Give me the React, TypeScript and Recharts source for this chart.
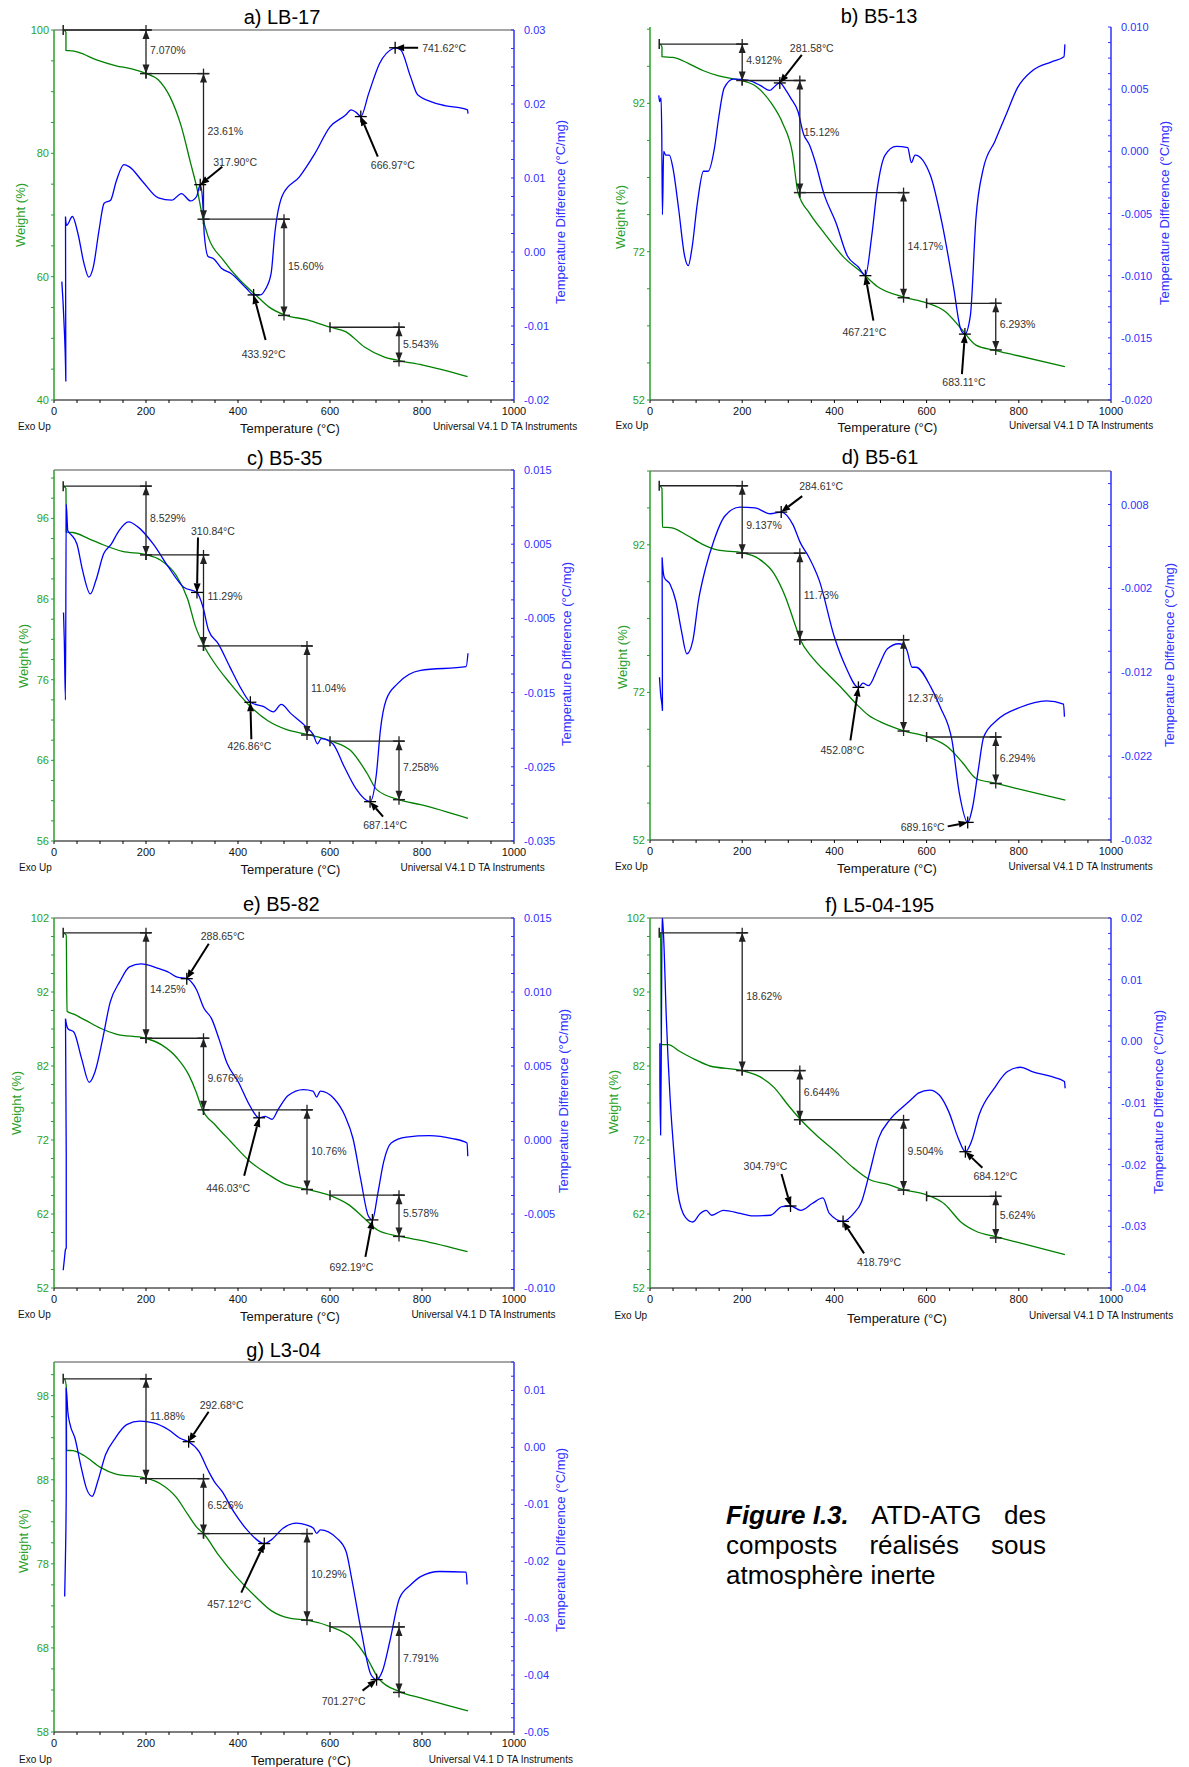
import React from "react";
import { ComposedChart, Line, XAxis, YAxis, ReferenceLine, ReferenceDot } from "recharts";

const FONT = '"Liberation Sans", Arial, Helvetica, sans-serif';
const TGA = "#008000";
const AXIS_GREEN = "#2a9f2a";
const DTA = "#0000ff";
const AXIS_BLUE = "#3030ff";
const INK = "#222";

type Pair = [number, number];
// [from °C, to °C, start weight (null = continue from previous step), loss %]
type Step = [number, number, number | null, number];
// [peak °C, DTA value]
type Peak = [number, number];
// [arrow tail dx, dy, label dx, dy, anchor] in px from the peak
type PeakLayout = [number, number, number, number, "start" | "middle" | "end"];

const xMajor = [0, 200, 400, 600, 800, 1000];

// ---------- a) LB-17 ----------
const lb17Weight: Pair[] = [
  [22, 100], [26, 99.6], [26, 96.7], [40, 96.6], [52, 96.4], [94, 95.1], [135, 94.2], [169, 93.7],
  [199, 92.97], [227, 91.9], [252, 89.2], [277, 84.3], [297, 78.4], [310, 74.6], [324, 69.35],
  [335, 66.5], [368, 62.7], [401, 59.7], [439, 57.0], [467, 55.1], [501, 53.8], [551, 53.0],
  [600, 51.8], [634, 51.1], [675, 48.6], [717, 47.0], [750, 46.4], [800, 45.7], [899, 43.8],
];
const lb17Dta: Pair[] = [
  [17, -0.004], [21.5, -0.0092], [25.7, -0.0175], [25, 0.0048], [27.4, 0.0036], [40, 0.0048],
  [52, 0.0025], [65, -0.0015], [75.6, -0.0034], [85.5, -0.002], [98, 0.003], [109, 0.0066],
  [123, 0.007], [135, 0.0095], [152, 0.0118], [164, 0.0115], [193, 0.0095], [227, 0.0073],
  [256, 0.007], [277, 0.0079], [297, 0.0069], [310, 0.0075], [317.9, 0.0091], [324, 0.0061],
  [326.5, 0.0025], [335, -0.0006], [347, -0.0009], [364, -0.0022], [385, -0.0029], [418, -0.0049],
  [434, -0.0058], [448, -0.0058], [459, -0.0051], [472, -0.0029], [480, 0.0025], [497, 0.0077],
  [534, 0.0102], [567, 0.0133], [600, 0.0169], [634, 0.0185], [646, 0.0192], [658, 0.0188],
  [667, 0.0183], [684, 0.0214], [708, 0.0255], [737, 0.0275], [742, 0.0276], [754, 0.0273],
  [775, 0.0237], [791, 0.0212], [841, 0.0199], [899, 0.0192], [900, 0.0187],
];
const lb17Steps: Step[] = [[20, 200, 100, 7.07], [200, 325, null, 23.61], [325, 500, null, 15.6], [600, 750, 51.8, 5.543]];
const lb17Peaks: Peak[] = [[317.9, 0.0091], [433.92, -0.0058], [666.97, 0.0183], [741.62, 0.0276]];
const lb17WeightTicks = [40, 60, 80, 100];
const lb17DtaTicks = [-0.02, -0.01, 0, 0.01, 0.02, 0.03];

// ---------- b) B5-13 ----------
const b513Weight: Pair[] = [
  [22, 100], [26, 99.6], [26, 98.3], [50, 98.2], [83, 97.4], [116, 96.4], [149, 95.7], [200, 95.06],
  [231, 94.25], [263.5, 92], [288, 89.3], [309, 85.3], [321, 80.0], [346, 77.2], [378, 74.5],
  [419.5, 71.3], [461, 69.1], [493, 67.3], [549, 65.9], [600, 65.1], [641, 63.9], [674, 61.7],
  [707, 59.4], [748, 58.7], [789, 58.1], [900, 56.5],
];
const b513Dta: Pair[] = [
  [19, 0.0045], [21, 0.004], [24, 0.0043], [25.5, 0.0014], [27, -0.0051], [29.6, 0.0], [34, -0.0003],
  [42, -0.0003], [50, -0.0014], [62, -0.0046], [75, -0.0084], [83, -0.0092], [91, -0.0078],
  [103, -0.0041], [116, -0.0016], [126, -0.0016], [140, 0.0003], [149, 0.0027], [161, 0.0051],
  [181, 0.0058], [214, 0.0057], [239, 0.0053], [259, 0.0049], [276, 0.0054], [281.6, 0.0055],
  [295, 0.0049], [305, 0.0043], [321, 0.0032], [333, 0.0014], [346, 0.0005], [358, -0.0008],
  [378, -0.0035], [403, -0.0057], [428, -0.0084], [452, -0.0093], [467.2, -0.01], [481, -0.0068],
  [493, -0.003], [510, -0.0003], [534, 0.0004], [559, 0.0003], [567, -0.0009], [575, -0.0003],
  [608, -0.0019], [633, -0.0057], [658, -0.0108], [674, -0.0143], [683.1, -0.0147], [695, -0.0132],
  [707, -0.0054], [723, -0.0014], [748, 0.0008], [773, 0.003], [797, 0.0051], [830, 0.0065],
  [871, 0.0072], [898, 0.0076], [900, 0.0086],
];
const b513Steps: Step[] = [[20, 200, 100, 4.912], [200, 325, null, 15.12], [325, 550, null, 14.17], [600, 750, 65.04, 6.293]];
const b513Peaks: Peak[] = [[281.58, 0.0055], [467.21, -0.01], [683.11, -0.0147]];
const b513WeightTicks = [52, 72, 92];
const b513DtaTicks = [-0.02, -0.015, -0.01, -0.005, 0, 0.005, 0.01];

// ---------- c) B5-35 ----------
const b535Weight: Pair[] = [
  [21, 100], [26, 99.7], [26.6, 94.3], [41.5, 94.25], [75, 93.5], [108, 92.7], [149, 91.9], [200, 91.5],
  [232, 90.8], [266, 88.9], [290.5, 86], [307, 82.7], [328, 80], [348.5, 78.1], [382, 75.6],
  [423, 72.9], [465, 70.9], [506, 69.8], [552, 69.2], [602, 68.4], [647, 67.1], [680.5, 64.4],
  [701, 62.4], [751, 61.1], [797, 60.5], [900, 58.8],
];
const b535Dta: Pair[] = [
  [20.7, -0.0042], [22.4, -0.008], [24.9, -0.016], [26.6, 0.0104], [30, 0.0068], [37, 0.0063],
  [50, 0.005], [62, 0.0015], [79, -0.0017], [91, 0.0001], [108, 0.0037], [124.5, 0.005], [141, 0.0068],
  [162, 0.008], [183, 0.0073], [216, 0.005], [249, 0.0019], [282, -0.0008], [310.8, -0.0015],
  [324, -0.0035], [336, -0.0066], [357, -0.0084], [382, -0.0115], [407, -0.0145], [426.9, -0.0163],
  [456, -0.0169], [477, -0.0176], [494, -0.0166], [514.5, -0.0178], [548, -0.0196], [564, -0.0207],
  [572.6, -0.0219], [581, -0.0212], [606, -0.0219], [631, -0.025], [656, -0.0279], [687.1, -0.0297],
  [701, -0.0259], [709.5, -0.0201], [722, -0.016], [747, -0.0138], [797, -0.012], [896, -0.0115],
  [900, -0.0097],
];
const b535Steps: Step[] = [[20, 200, 100, 8.529], [200, 325, null, 11.29], [325, 550, null, 11.04], [600, 750, 68.38, 7.258]];
const b535Peaks: Peak[] = [[310.84, -0.0015], [426.86, -0.0163], [687.14, -0.0297]];
const b535WeightTicks = [56, 66, 76, 86, 96];
const b535DtaTicks = [-0.035, -0.025, -0.015, -0.005, 0.005, 0.015];

// ---------- d) B5-61 ----------
const b561Weight: Pair[] = [
  [21, 100], [26, 99.6], [27, 94.4], [47.6, 94.3], [80, 93.3], [113, 92.1], [146, 91.3], [201, 90.9],
  [236, 90.1], [269, 88.1], [294, 84.9], [314, 81.3], [326.5, 79.1], [351, 76.8], [384, 74.6],
  [417, 72.5], [449.5, 70.3], [474, 68.9], [507, 67.8], [550, 66.8], [601, 66.0], [646, 64.6],
  [679, 62.4], [708, 60.3], [749, 59.7], [794, 59], [901, 57.4],
];
const b561Dta: Pair[] = [
  [20.5, -0.0126], [23, -0.0146], [27, -0.0166], [26.3, 0.0017], [31, -0.0007], [43.5, -0.0015],
  [56, -0.0035], [68, -0.007], [80, -0.0098], [93, -0.0082], [105, -0.0035], [121, 0.0005],
  [138, 0.0036], [162, 0.0066], [195, 0.0077], [228, 0.0076], [261, 0.0069], [284.6, 0.0071],
  [310, 0.0056], [326.5, 0.0034], [343, 0.0019], [367.5, -0.0011], [400, -0.0078], [425, -0.0114],
  [452.1, -0.0138], [462, -0.0133], [474, -0.0136], [495, -0.0114], [515, -0.0092], [540, -0.0086],
  [556, -0.0092], [568.5, -0.0114], [577, -0.0114], [609.5, -0.0138], [630, -0.0162], [655, -0.0201],
  [671, -0.0264], [689.2, -0.0299], [700, -0.028], [712, -0.0237], [724, -0.0197], [753, -0.0177],
  [802, -0.0162], [860, -0.0154], [897, -0.0158], [899, -0.0173],
];
const b561Steps: Step[] = [[20, 200, 100, 9.137], [200, 325, null, 11.73], [325, 550, null, 12.37], [600, 750, 65.96, 6.294]];
const b561Peaks: Peak[] = [[284.61, 0.0071], [452.08, -0.0138], [689.16, -0.0299]];
const b561WeightTicks = [52, 72, 92];
const b561DtaTicks = [-0.032, -0.022, -0.012, -0.002, 0.008];

// ---------- e) B5-82 ----------
const b582Weight: Pair[] = [
  [20, 100], [26.6, 99.7], [28.3, 89.4], [43, 89], [68, 88.2], [101, 87.1], [135, 86.3], [199, 85.75],
  [234, 84.85], [268, 83.05], [293, 80.8], [309, 78.5], [322, 76.2], [351, 74], [384, 71.8],
  [426, 69.1], [467, 67.3], [500, 66.1], [549, 65.35], [600, 64.5], [642, 63.2], [675, 61.4],
  [704, 59.8], [750, 59], [800, 58.4], [899, 56.9],
];
const b582Dta: Pair[] = [
  [20, -0.0088], [22.4, -0.0081], [25, -0.0074], [26.6, -0.0073], [26.6, -0.0009], [25, 0.0082],
  [30.8, 0.0075], [43, 0.0073], [60, 0.0055], [76.5, 0.0039], [89, 0.0046], [105.6, 0.0068],
  [122, 0.0093], [143, 0.0107], [164, 0.0117], [189, 0.0119], [226, 0.0116], [251, 0.0113],
  [268, 0.011], [288.7, 0.0109], [309, 0.0102], [326, 0.0089], [342.5, 0.0082], [359, 0.0068],
  [376, 0.0052], [401, 0.0039], [426, 0.0023], [446, 0.0015], [459, 0.0016], [474, 0.0014],
  [488, 0.0021], [509, 0.003], [542, 0.0034], [563, 0.0033], [571, 0.0029], [579, 0.0033],
  [608.5, 0.0028], [633, 0.0016], [650, 0.0001], [667, -0.0027], [683, -0.0051], [692.2, -0.0054],
  [704, -0.0036], [716.5, -0.0015], [733, -0.0002], [766, 0.0002], [816, 0.0003], [866, 0.0001],
  [898, -0.0002], [899.5, -0.0011],
];
const b582Steps: Step[] = [[20, 200, 100, 14.25], [200, 325, null, 9.676], [325, 550, null, 10.76], [600, 750, 64.55, 5.578]];
const b582Peaks: Peak[] = [[288.65, 0.0109], [446.03, 0.0015], [692.19, -0.0054]];
const b582WeightTicks = [52, 62, 72, 82, 92, 102];
const b582DtaTicks = [-0.01, -0.005, 0, 0.005, 0.01, 0.015];

// ---------- f) L5-04-195 ----------
const l504Weight: Pair[] = [
  [21, 100], [23, 99.8], [24.7, 84.9], [39.5, 84.9], [64, 84], [97, 82.9], [130, 82], [198, 81.4],
  [237, 80.6], [270, 79.05], [298.5, 76.8], [326, 74.8], [360, 72.7], [401, 70.5], [442, 68.2],
  [475, 66.7], [516, 66], [549, 65.3], [599, 64.6], [640, 63.3], [673, 61], [706, 59.7],
  [751, 58.9], [796, 58.2], [900, 56.5],
];
const l504Dta: Pair[] = [
  [21.4, -0.0003], [21.4, -0.006], [23, -0.0152], [24.7, 0.0011], [26.3, 0.0205], [29.6, 0.0168],
  [35.4, 0.0038], [43.6, -0.0092], [51.8, -0.0179], [60, -0.0244], [76.5, -0.0285], [93, -0.0293],
  [109, -0.0279], [122, -0.0274], [134, -0.0282], [159, -0.0274], [196, -0.0279], [220, -0.0283],
  [261.5, -0.0282], [286, -0.0268], [304.8, -0.0267], [327, -0.0274], [352, -0.0263], [375, -0.0254],
  [389, -0.0279], [418.8, -0.0292], [442, -0.0279], [459, -0.026], [475, -0.0217], [496, -0.0157],
  [520.6, -0.0127], [549, -0.0106], [570, -0.0092], [582, -0.0084], [607, -0.0079], [627.5, -0.0087],
  [648, -0.0114], [668.6, -0.0157], [684.1, -0.0179], [697, -0.0163], [714, -0.0119], [747, -0.0076],
  [775.5, -0.0049], [804, -0.0042], [829, -0.0049], [870, -0.0057], [899, -0.0065], [900.5, -0.0076],
];
const l504Steps: Step[] = [[20, 200, 100, 18.62], [200, 325, null, 6.644], [325, 550, null, 9.504], [600, 750, 64.39, 5.624]];
const l504Peaks: Peak[] = [[304.79, -0.0267], [418.79, -0.0292], [684.12, -0.0179]];
const l504WeightTicks = [52, 62, 72, 82, 92, 102];
const l504DtaTicks = [-0.04, -0.03, -0.02, -0.01, 0, 0.01, 0.02];

// ---------- g) L3-04 ----------
const l304Weight: Pair[] = [
  [23, 100], [26.6, 99.2], [27.4, 91.5], [41.5, 91.45], [66, 90.85], [100, 89.5], [133, 88.7],
  [199, 88.2], [232, 87.5], [266, 85.9], [290.5, 83.9], [311, 82.3], [325, 81.6], [357, 79.1],
  [398, 76.35], [440, 74], [473, 72.4], [514.5, 71.5], [550, 71.3], [602, 70.5], [647, 69.2],
  [680.5, 66.8], [705, 64.4], [751, 62.8], [797, 62.05], [900, 60.5],
];
const l304Dta: Pair[] = [
  [23.2, -0.0262], [24.9, -0.0194], [26.6, -0.0077], [26.6, 0.0104], [30, 0.0063], [35, 0.004],
  [45.6, 0.0016], [58, -0.0031], [70.5, -0.0072], [83, -0.0086], [95, -0.006], [112, -0.0013],
  [133, 0.0016], [158, 0.004], [187, 0.0046], [216, 0.0043], [249, 0.0031], [274, 0.0016],
  [292.7, 0.001], [315, -0.0007], [336, -0.0042], [348.5, -0.006], [365, -0.0077], [390, -0.0112],
  [423, -0.0148], [457.1, -0.0169], [473, -0.0162], [498, -0.0142], [527, -0.0133], [548, -0.0136],
  [564, -0.0142], [571, -0.0151], [579, -0.0145], [614, -0.0159], [635, -0.0183], [647, -0.023],
  [668, -0.0323], [689, -0.0399], [701.3, -0.0408], [714, -0.0393], [730, -0.0341], [751, -0.0265],
  [776, -0.0241], [797, -0.0227], [838, -0.0218], [896, -0.0219], [898, -0.0241],
];
const l304Steps: Step[] = [[20, 200, 100, 11.88], [200, 325, null, 6.526], [325, 550, null, 10.29], [600, 750, 70.5, 7.791]];
const l304Peaks: Peak[] = [[292.68, 0.001], [457.12, -0.0169], [701.27, -0.0408]];
const l304WeightTicks = [58, 68, 78, 88, 98];
const l304DtaTicks = [-0.05, -0.04, -0.03, -0.02, -0.01, 0, 0.01];

// caption, one array per justified line
const captionLines = [
  ["Figure I.3.", "ATD-ATG", "des"],
  ["composts", "réalisés", "sous"],
  ["atmosphère inerte"],
];

type Pos = [number, number];
interface PanelCfg {
  title: string;
  weight: Pair[];
  dta: Pair[];
  steps: Step[];
  peaks: Peak[];
  wDomain: [number, number];
  wTicks: number[];
  wMinor: number;
  dDomain: [number, number];
  dTicks: number[];
  dMinor: number;
  dDec: number;
  box: [number, number, number, number];
  stepFrac: number[];
  peakLay: PeakLayout[];
  topFrame: boolean;
  txt: { title: Pos; exo: Pos; temp: Pos; univ: Pos; wt: Pos; dt: Pos };
}

const panels: PanelCfg[] = [
  {
    title: "a) LB-17", weight: lb17Weight, dta: lb17Dta, steps: lb17Steps, peaks: lb17Peaks,
    wDomain: [40, 100], wTicks: lb17WeightTicks, wMinor: 5,
    dDomain: [-0.02, 0.03], dTicks: lb17DtaTicks, dMinor: 0.0025, dDec: 2,
    box: [54, 30, 514, 400], stepFrac: [0.45, 0.395, 0.49, 0.49],
    peakLay: [[22, -18, 13, -23, "start"], [12, 45, 10, 59, "middle"], [17, 40, 32, 48, "middle"], [23, 0, 27, 0, "start"]],
    topFrame: true,
    txt: { title: [282, 17], exo: [18, 427], temp: [290, 428], univ: [433, 427], wt: [19.5, 215], dt: [559.5, 212] },
  },
  {
    title: "b) B5-13", weight: b513Weight, dta: b513Dta, steps: b513Steps, peaks: b513Peaks,
    wDomain: [52, 102.3], wTicks: b513WeightTicks, wMinor: 5,
    dDomain: [-0.02, 0.01], dTicks: b513DtaTicks, dMinor: 0.00125, dDec: 3,
    box: [650, 27, 1111, 400], stepFrac: [0.43, 0.456, 0.51, 0.45],
    peakLay: [[22, -28, 10, -35, "start"], [8, 45, -1, 56, "middle"], [-3, 40, -1, 48, "middle"]],
    topFrame: false,
    txt: { title: [879, 16], exo: [615.6, 426], temp: [887.5, 427], univ: [1009, 426], wt: [620, 217], dt: [1164, 213] },
  },
  {
    title: "c) B5-35", weight: b535Weight, dta: b535Dta, steps: b535Steps, peaks: b535Peaks,
    wDomain: [56, 102], wTicks: b535WeightTicks, wMinor: 2.5,
    dDomain: [-0.035, 0.015], dTicks: b535DtaTicks, dMinor: 0.0025, dDec: 3,
    box: [54, 470, 514, 841], stepFrac: [0.47, 0.45, 0.47, 0.45],
    peakLay: [[1, -55, -6, -61, "start"], [1, 37, -1, 44, "middle"], [13, 15, 15, 23, "middle"]],
    topFrame: true,
    txt: { title: [284.7, 458], exo: [19, 868], temp: [290.5, 869], univ: [400.5, 868], wt: [23, 655.5], dt: [565.6, 654] },
  },
  {
    title: "d) B5-61", weight: b561Weight, dta: b561Dta, steps: b561Steps, peaks: b561Peaks,
    wDomain: [52, 102], wTicks: b561WeightTicks, wMinor: 5,
    dDomain: [-0.032, 0.012], dTicks: b561DtaTicks, dMinor: 0.0025, dDec: 3,
    box: [650, 471, 1111, 840], stepFrac: [0.58, 0.48, 0.64, 0.46],
    peakLay: [[21, -16, 18, -26, "start"], [-8, 53, -16, 63, "middle"], [-20, 4, -23, 5, "end"]],
    topFrame: true,
    txt: { title: [880, 457], exo: [615, 867], temp: [887, 868], univ: [1008.5, 867], wt: [622, 656.7], dt: [1169, 655] },
  },
  {
    title: "e) B5-82", weight: b582Weight, dta: b582Dta, steps: b582Steps, peaks: b582Peaks,
    wDomain: [52, 102], wTicks: b582WeightTicks, wMinor: 2.5,
    dDomain: [-0.01, 0.015], dTicks: b582DtaTicks, dMinor: 0.00125, dDec: 3,
    box: [54, 918, 514, 1288], stepFrac: [0.53, 0.56, 0.52, 0.43],
    peakLay: [[22, -35, 14, -43, "start"], [-15, 58, -31, 70, "middle"], [-7, 37, -21, 47, "middle"]],
    topFrame: true,
    txt: { title: [281.3, 904], exo: [18, 1315], temp: [290, 1316], univ: [411.4, 1315], wt: [16, 1103], dt: [563.4, 1101] },
  },
  {
    title: "f) L5-04-195", weight: l504Weight, dta: l504Dta, steps: l504Steps, peaks: l504Peaks,
    wDomain: [52, 102], wTicks: l504WeightTicks, wMinor: 2.5,
    dDomain: [-0.04, 0.02], dTicks: l504DtaTicks, dMinor: 0.0025, dDec: 2,
    box: [650, 918, 1111, 1288], stepFrac: [0.46, 0.43, 0.44, 0.44],
    peakLay: [[-9, -32, -25, -40, "middle"], [21, 32, 36, 41, "middle"], [17, 16, 8, 24, "start"]],
    topFrame: true,
    txt: { title: [879.7, 905], exo: [614.4, 1316], temp: [897, 1317.7], univ: [1029, 1316], wt: [613, 1101.7], dt: [1158.4, 1101.7] },
  },
  {
    title: "g) L3-04", weight: l304Weight, dta: l304Dta, steps: l304Steps, peaks: l304Peaks,
    wDomain: [58, 102], wTicks: l304WeightTicks, wMinor: 2.5,
    dDomain: [-0.05, 0.015], dTicks: l304DtaTicks, dMinor: 0.0025, dDec: 2,
    box: [54, 1362, 514, 1732], stepFrac: [0.37, 0.48, 0.47, 0.47],
    peakLay: [[20, -30, 11, -37, "start"], [-23, 49, -35, 60, "middle"], [-14, 11, -33, 21, "middle"]],
    topFrame: true,
    txt: { title: [283.6, 1350], exo: [19, 1760], temp: [300.8, 1760], univ: [428.8, 1760], wt: [23, 1540.5], dt: [560, 1540] },
  },
];

const toPts = (arr: Pair[]) => arr.map(([t, v]) => ({ t, v }));

const withMinor = (majors: number[], step: number, [lo, hi]: [number, number]) => {
  const out: number[] = [];
  const base = majors[0];
  const kLo = Math.ceil((lo - base) / step - 1e-6);
  const kHi = Math.floor((hi - base) / step + 1e-6);
  for (let k = kLo; k <= kHi; k++) out.push(+(base + k * step).toFixed(6));
  return out;
};
const isMajor = (majors: number[], v: number, step: number) => majors.some((m) => Math.abs(m - v) < step * 1e-3);

const xTicks = withMinor(xMajor, 50, [0, 1000]);

const xTick = (p: any) => {
  const v = p.payload.value;
  const major = isMajor(xMajor, v, 50);
  return (
    <g>
      <line x1={p.x} y1={p.y} x2={p.x} y2={p.y + 3} stroke="#000" strokeWidth={1} />
      {major && (
        <text x={p.x} y={p.y + 11} textAnchor="middle" dominantBaseline="central" fontSize={11} fontFamily={FONT} fill="#111">
          {v}
        </text>
      )}
    </g>
  );
};

const leftTick = (majors: number[], step: number) => (p: any) => {
  const v = p.payload.value;
  const major = isMajor(majors, v, step);
  return (
    <g>
      <line x1={p.x} y1={p.y} x2={p.x - 3} y2={p.y} stroke={AXIS_GREEN} strokeWidth={1} />
      {major && (
        <text x={p.x - 5} y={p.y} textAnchor="end" dominantBaseline="central" fontSize={11} fontFamily={FONT} fill={AXIS_GREEN}>
          {v}
        </text>
      )}
    </g>
  );
};

const rightTick = (majors: number[], step: number, dec: number) => (p: any) => {
  const v = p.payload.value;
  const major = isMajor(majors, v, step);
  return (
    <g>
      <line x1={p.x} y1={p.y} x2={p.x - 3} y2={p.y} stroke={AXIS_BLUE} strokeWidth={1} />
      {major && (
        <text x={p.x + 10} y={p.y} textAnchor="start" dominantBaseline="central" fontSize={11} fontFamily={FONT} fill={AXIS_BLUE}>
          {v.toFixed(dec)}
        </text>
      )}
    </g>
  );
};

// horizontal part of a mass-loss step, with the start bar
const stepRun = (p: any) => (
  <g>
    <line x1={p.x1} y1={p.y1} x2={p.x2 + 5} y2={p.y2} stroke={INK} strokeWidth={1.3} />
    <line x1={p.x1} y1={p.y1 - 5} x2={p.x1} y2={p.y1 + 5} stroke={INK} strokeWidth={1.5} />
  </g>
);

// vertical double arrow of a mass-loss step plus its % label
const stepDrop = (label: string, frac: number) => (p: any) => {
  const x = p.x1;
  const ya = p.y1;
  const yb = p.y2;
  return (
    <g>
      <line x1={x} y1={ya - 5} x2={x} y2={yb + 5} stroke={INK} strokeWidth={1.3} />
      <line x1={x - 6} y1={ya} x2={x + 6} y2={ya} stroke={INK} strokeWidth={1.5} />
      <line x1={x - 6} y1={yb} x2={x + 6} y2={yb} stroke={INK} strokeWidth={1.5} />
      <polygon points={`${x},${ya} ${x - 3.5},${ya + 9} ${x + 3.5},${ya + 9}`} fill={INK} />
      <polygon points={`${x},${yb} ${x - 3.5},${yb - 9} ${x + 3.5},${yb - 9}`} fill={INK} />
      <text x={x + 4} y={ya + frac * (yb - ya)} dominantBaseline="central" fontSize={10.5} fontFamily={FONT} fill="#333">
        {label}
      </text>
    </g>
  );
};

// arrow pointing at a DTA peak, cross marker and temperature label
const peakMark = (label: string, lay: PeakLayout) => (p: any) => {
  const { cx, cy } = p;
  const tx = cx + lay[0];
  const ty = cy + lay[1];
  const ang = Math.atan2(cy - ty, cx - tx);
  const hl = 9;
  const hw = 3.5;
  const bx = cx - hl * Math.cos(ang);
  const by = cy - hl * Math.sin(ang);
  const px = -Math.sin(ang) * hw;
  const py = Math.cos(ang) * hw;
  return (
    <g>
      <line x1={tx} y1={ty} x2={bx} y2={by} stroke="#000" strokeWidth={2} />
      <polygon points={`${cx},${cy} ${bx + px},${by + py} ${bx - px},${by - py}`} fill="#000" />
      <line x1={cx - 6} y1={cy} x2={cx + 6} y2={cy} stroke="#000" strokeWidth={1.3} />
      <line x1={cx} y1={cy - 6} x2={cx} y2={cy + 6} stroke="#000" strokeWidth={1.3} />
      <text x={cx + lay[2]} y={cy + lay[3]} textAnchor={lay[4]} dominantBaseline="central" fontSize={10.5} fontFamily={FONT} fill="#333">
        {label}
      </text>
    </g>
  );
};

function Txt({ at, anchor = "middle", size, color = "#111", rotate = false, children }: any) {
  const tx = anchor === "start" ? "0" : anchor === "end" ? "-100%" : "-50%";
  return (
    <div
      style={{
        position: "absolute",
        left: at[0],
        top: at[1],
        transform: `translate(${tx}, -50%)${rotate ? " rotate(-90deg)" : ""}`,
        whiteSpace: "nowrap",
        fontSize: size,
        color,
        lineHeight: 1,
        fontFamily: FONT,
      }}
    >
      {children}
    </div>
  );
}

function Panel({ c }: { c: PanelCfg }) {
  const [L, T, R, B] = c.box;
  const PW = R - L;
  const PH = B - T;
  const LW = 45;
  const RW = 60;
  const TOP = 10;
  const XH = 20;

  // chain the step start weights
  let prev = 100;
  const steps = c.steps.map(([from, to, start, loss]) => {
    const s = start == null ? prev : start;
    const e = +(s - loss).toFixed(4);
    prev = e;
    return { from, to, s, e, loss };
  });

  return (
    <>
      <div style={{ position: "absolute", left: L - LW, top: T - TOP }}>
        <ComposedChart width={LW + PW + RW} height={TOP + PH + XH} margin={{ top: TOP, right: 0, bottom: 0, left: 0 }}>
          <XAxis
            type="number"
            dataKey="t"
            domain={[0, 1000]}
            allowDataOverflow
            ticks={xTicks}
            interval={0}
            height={XH}
            tickSize={0}
            tickMargin={0}
            tickLine={false}
            tick={xTick}
            axisLine={{ stroke: "#000", strokeWidth: 1.2 }}
          />
          <YAxis
            yAxisId="w"
            orientation="left"
            type="number"
            width={LW}
            domain={c.wDomain}
            allowDataOverflow
            ticks={withMinor(c.wTicks, c.wMinor, c.wDomain)}
            interval={0}
            tickSize={0}
            tickMargin={0}
            tickLine={false}
            tick={leftTick(c.wTicks, c.wMinor)}
            axisLine={{ stroke: AXIS_GREEN, strokeWidth: 1.5 }}
          />
          <YAxis
            yAxisId="d"
            orientation="right"
            type="number"
            width={RW}
            domain={c.dDomain}
            allowDataOverflow
            ticks={withMinor(c.dTicks, c.dMinor, c.dDomain)}
            interval={0}
            tickSize={0}
            tickMargin={0}
            tickLine={false}
            tick={rightTick(c.dTicks, c.dMinor, c.dDec)}
            axisLine={{ stroke: AXIS_BLUE, strokeWidth: 1.5 }}
          />
          {c.topFrame && (
            <ReferenceLine yAxisId="w" y={c.wDomain[1]} stroke="#888" strokeWidth={1.5} ifOverflow="visible" />
          )}
          <Line
            data={toPts(c.weight)}
            dataKey="v"
            yAxisId="w"
            type="monotone"
            stroke={TGA}
            strokeWidth={1.3}
            dot={false}
            activeDot={false}
            isAnimationActive={false}
          />
          <Line
            data={toPts(c.dta)}
            dataKey="v"
            yAxisId="d"
            type="monotone"
            stroke={DTA}
            strokeWidth={1.3}
            dot={false}
            activeDot={false}
            isAnimationActive={false}
          />
          {steps.map((s, i) => (
            <ReferenceLine
              key={`run-${i}`}
              yAxisId="w"
              ifOverflow="visible"
              segment={[{ x: s.from, y: s.s }, { x: s.to, y: s.s }]}
              shape={stepRun}
            />
          ))}
          {steps.map((s, i) => (
            <ReferenceLine
              key={`drop-${i}`}
              yAxisId="w"
              ifOverflow="visible"
              segment={[{ x: s.to, y: s.s }, { x: s.to, y: s.e }]}
              shape={stepDrop(`${s.loss.toPrecision(4)}%`, c.stepFrac[i])}
            />
          ))}
          {c.peaks.map(([t, d], i) => (
            <ReferenceDot
              key={`pk-${i}`}
              yAxisId="d"
              x={t}
              y={d}
              r={1}
              ifOverflow="visible"
              shape={peakMark(`${t.toFixed(2)}°C`, c.peakLay[i])}
            />
          ))}
        </ComposedChart>
      </div>
      <Txt at={c.txt.title} size={20} color="#000">{c.title}</Txt>
      <Txt at={c.txt.exo} anchor="start" size={10}>Exo Up</Txt>
      <Txt at={c.txt.temp} size={13}>Temperature (°C)</Txt>
      <Txt at={c.txt.univ} anchor="start" size={10}>Universal V4.1 D TA Instruments</Txt>
      <Txt at={c.txt.wt} size={13} color={AXIS_GREEN} rotate>Weight (%)</Txt>
      <Txt at={c.txt.dt} size={13} color={AXIS_BLUE} rotate>Temperature Difference (°C/mg)</Txt>
    </>
  );
}

export default function App() {
  return (
    <div style={{ position: "absolute", left: 0, top: 0, width: 1189, height: 1767, background: "#fff", fontFamily: FONT, overflow: "hidden" }}>
      {panels.map((c) => (
        <Panel key={c.title} c={c} />
      ))}
      <div style={{ position: "absolute", left: 726, top: 1500, width: 320, fontSize: 26, fontFamily: FONT, color: "#000" }}>
        {captionLines.map((words, li) => (
          <div key={li} style={{ display: "flex", justifyContent: "space-between", height: 30, alignItems: "center", whiteSpace: "nowrap" }}>
            {words.map((w, wi) => (
              <span
                key={wi}
                style={li === 0 && wi === 0 ? { fontWeight: "bold", fontStyle: "italic" } : undefined}
              >
                {w}
              </span>
            ))}
          </div>
        ))}
      </div>
    </div>
  );
}
